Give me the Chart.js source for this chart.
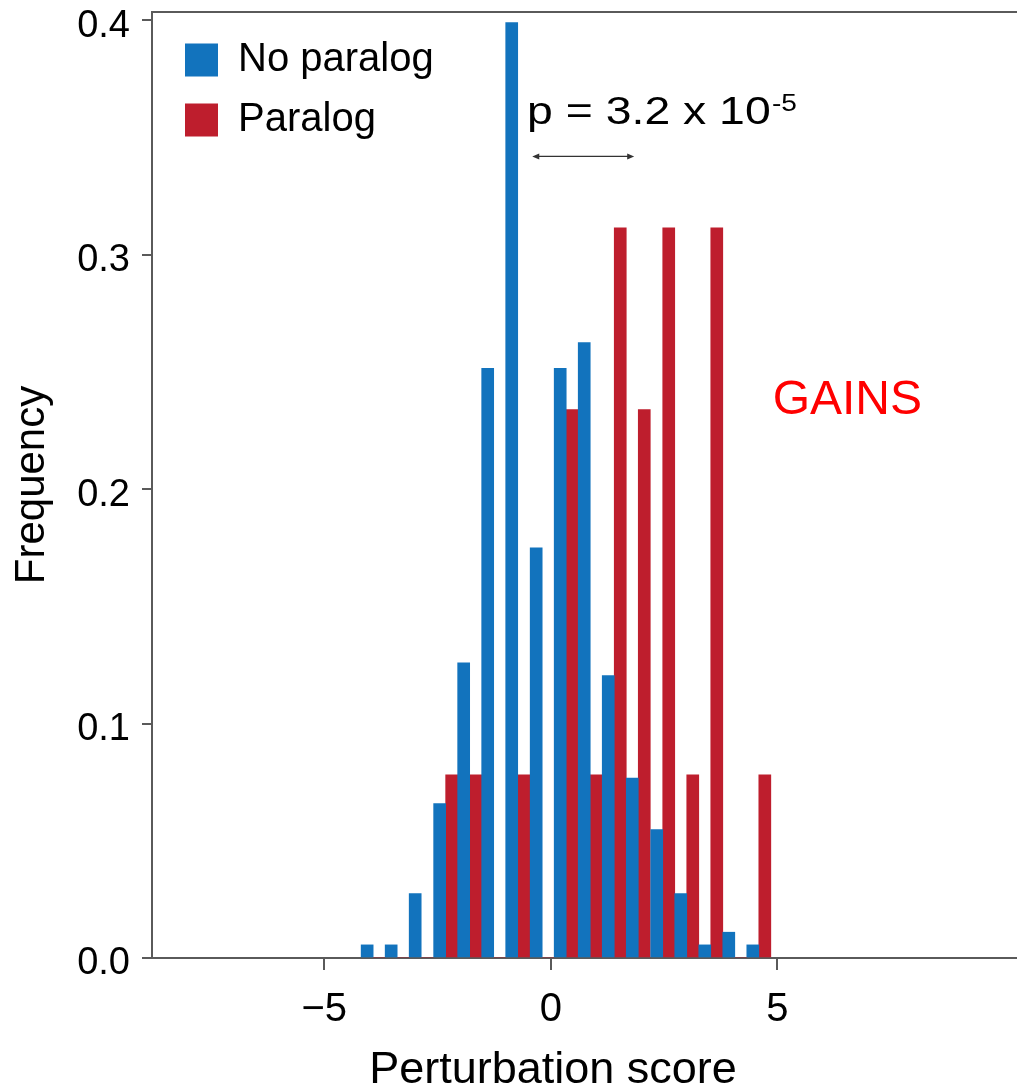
<!DOCTYPE html>
<html>
<head>
<meta charset="utf-8">
<script src="https://cdn.jsdelivr.net/npm/chart.js@4.4.1/dist/chart.umd.min.js"></script>
<style>
  html, body { margin: 0; padding: 0; background: #ffffff; overflow: hidden; }
  canvas { display: block; }
</style>
</head>
<body>
<canvas id="chart" width="1017" height="1091" style="width:1017px;height:1091px"></canvas>
<script>
// ---- data ----
const binCenters = [-3.92, -3.39, -2.86, -2.32, -1.79, -1.26, -0.73, -0.19, 0.34, 0.87, 1.40, 1.93, 2.47, 3.00, 3.53, 4.06, 4.59];
const noParalog  = [0.0056, 0.0056, 0.0275, 0.0659, 0.1259, 0.2515, 0.3990, 0.1750, 0.2515, 0.2625, 0.1205, 0.0767, 0.0548, 0.0275, 0.0056, 0.0110, 0.0056];
const paralog    = [0, 0, 0, 0.0781, 0.0781, 0, 0.0781, 0, 0.2339, 0.0781, 0.3114, 0.2339, 0.3114, 0.0781, 0.3114, 0, 0.0781];
const seriesLabels = ['No paralog', 'Paralog'];
const xTickValues = [-5, 0, 5];
const xTickLabels = ['\u22125', '0', '5'];
const yTickValues = [0, 0.1, 0.2, 0.3, 0.4];
const yTickLabels = ['0.0', '0.1', '0.2', '0.3', '0.4'];
const xRange = [-8.8, 8.897];
const yRange = [0, 0.4035];
const xTitle = 'Perturbation score';
const yTitle = 'Frequency';
// annotations (data units)
const pValueText = 'p = 3.2 x 10';
const pValueExp = '-5';
const pValueAnchor = [-0.523, 0.3557];
const arrowSpan = [-0.41, 1.84, 0.3419];
const gainsText = 'GAINS';
const gainsAnchor = [4.895, 0.2322];

// ---- styles ----
const fontFamily = "'Liberation Sans', Arial, Helvetica, sans-serif";
const frameColor = '#5a5a5a';
const blue = '#1273BD';
const red = '#BE1E2D';

const annotations = {
  id: 'annotations',
  beforeDraw(chart) {
    const lg = chart.legend;
    const ca = chart.chartArea;
    if (lg) {
      const dx = (ca.left + 13) - lg.left;
      const dy = (ca.top + 8) - lg.top;
      lg.left += dx; lg.right += dx; lg.top += dy; lg.bottom += dy;
    }
  },
  afterDraw(chart) {
    const { ctx, chartArea, scales: { x, y } } = chart;
    const fullRight = chart.width;
    ctx.save();
    // frame: top line across the whole plot, bottom axis line continued to the edge
    ctx.strokeStyle = frameColor;
    ctx.lineWidth = 2;
    ctx.beginPath();
    ctx.moveTo(chartArea.left - 1, chartArea.top);
    ctx.lineTo(fullRight, chartArea.top);
    ctx.moveTo(chartArea.right - 1, chartArea.bottom);
    ctx.lineTo(fullRight, chartArea.bottom);
    ctx.stroke();

    // p-value text (stretched horizontally like the reference)
    const px = x.getPixelForValue(pValueAnchor[0]);
    const py = y.getPixelForValue(pValueAnchor[1]);
    ctx.save();
    ctx.translate(px, py);
    ctx.scale(1.22, 1);
    ctx.fillStyle = '#000';
    ctx.textAlign = 'left';
    ctx.textBaseline = 'alphabetic';
    ctx.font = '38px ' + fontFamily;
    ctx.fillText(pValueText, 0, 0);
    const w = ctx.measureText(pValueText).width;
    ctx.font = '23px ' + fontFamily;
    ctx.fillText(pValueExp, w + 1, -13);
    ctx.restore();

    // double-headed arrow
    const ax1 = x.getPixelForValue(arrowSpan[0]);
    const ax2 = x.getPixelForValue(arrowSpan[1]);
    const ay = y.getPixelForValue(arrowSpan[2]);
    ctx.strokeStyle = '#333';
    ctx.fillStyle = '#333';
    ctx.lineWidth = 1.4;
    ctx.beginPath();
    ctx.moveTo(ax1 + 3, ay);
    ctx.lineTo(ax2 - 3, ay);
    ctx.stroke();
    ctx.beginPath();
    ctx.moveTo(ax1, ay); ctx.lineTo(ax1 + 7, ay - 3); ctx.lineTo(ax1 + 7, ay + 3); ctx.closePath(); ctx.fill();
    ctx.beginPath();
    ctx.moveTo(ax2, ay); ctx.lineTo(ax2 - 7, ay - 3); ctx.lineTo(ax2 - 7, ay + 3); ctx.closePath(); ctx.fill();

    // GAINS label
    ctx.fillStyle = '#FF0000';
    ctx.font = '48px ' + fontFamily;
    ctx.textAlign = 'left';
    ctx.textBaseline = 'alphabetic';
    ctx.fillText(gainsText, x.getPixelForValue(gainsAnchor[0]), y.getPixelForValue(gainsAnchor[1]));
    ctx.restore();
  }
};

new Chart(document.getElementById('chart'), {
  type: 'bar',
  data: {
    datasets: [
      {
        label: seriesLabels[0],
        data: binCenters.map((c, i) => ({ x: c, y: noParalog[i] })),
        backgroundColor: blue,
        borderWidth: 0,
        categoryPercentage: 1,
        barPercentage: 1
      },
      {
        label: seriesLabels[1],
        data: binCenters.map((c, i) => ({ x: c, y: paralog[i] })),
        backgroundColor: red,
        borderWidth: 0,
        categoryPercentage: 1,
        barPercentage: 1
      }
    ]
  },
  options: {
    responsive: false,
    animation: false,
    devicePixelRatio: 1,
    layout: { padding: { top: 12, left: 0, right: 63, bottom: 0 } },
    plugins: {
      tooltip: { enabled: false },
      legend: {
        display: true,
        position: 'chartArea',
        align: 'start',
        labels: {
          boxWidth: 33,
          boxHeight: 33,
          padding: 20,
          color: '#000',
          font: { family: fontFamily, size: 40 }
        }
      }
    },
    scales: {
      x: {
        type: 'linear',
        min: xRange[0],
        max: xRange[1],
        bounds: 'data',
        offset: false,
        afterBuildTicks: s => { s.ticks = xTickValues.map(v => ({ value: v })); },
        afterFit: s => { s.height = 133; s.paddingLeft = 0; s.paddingRight = 0; },
        ticks: {
          callback: (v, i) => xTickLabels[i],
          font: { family: fontFamily, size: 40 },
          color: '#000',
          padding: 16,
          maxRotation: 0,
          autoSkip: false
        },
        grid: { drawOnChartArea: false, drawTicks: true, tickLength: 12, color: frameColor, lineWidth: 2, offset: false },
        border: { display: true, color: frameColor, width: 2 },
        title: {
          display: true,
          text: xTitle,
          color: '#000',
          font: { family: fontFamily, size: 45, lineHeight: 0.9 },
          padding: 0
        }
      },
      y: {
        type: 'linear',
        min: yRange[0],
        max: yRange[1],
        bounds: 'data',
        afterBuildTicks: s => { s.ticks = yTickValues.map(v => ({ value: v })); },
        afterFit: s => { s.width = 152; s.paddingTop = 0; s.paddingBottom = 0; },
        ticks: {
          callback: (v, i) => yTickLabels[i],
          font: { family: fontFamily, size: 38 },
          color: '#000',
          padding: 12,
          labelOffset: 6,
          autoSkip: false
        },
        grid: { drawOnChartArea: false, drawTicks: true, tickLength: 10, color: frameColor, lineWidth: 2 },
        border: { display: true, color: frameColor, width: 2 },
        title: {
          display: true,
          text: yTitle,
          color: '#000',
          font: { family: fontFamily, size: 42, lineHeight: 1 },
          padding: { top: 11, bottom: 0 }
        }
      }
    }
  },
  plugins: [annotations]
});
</script>
</body>
</html>
